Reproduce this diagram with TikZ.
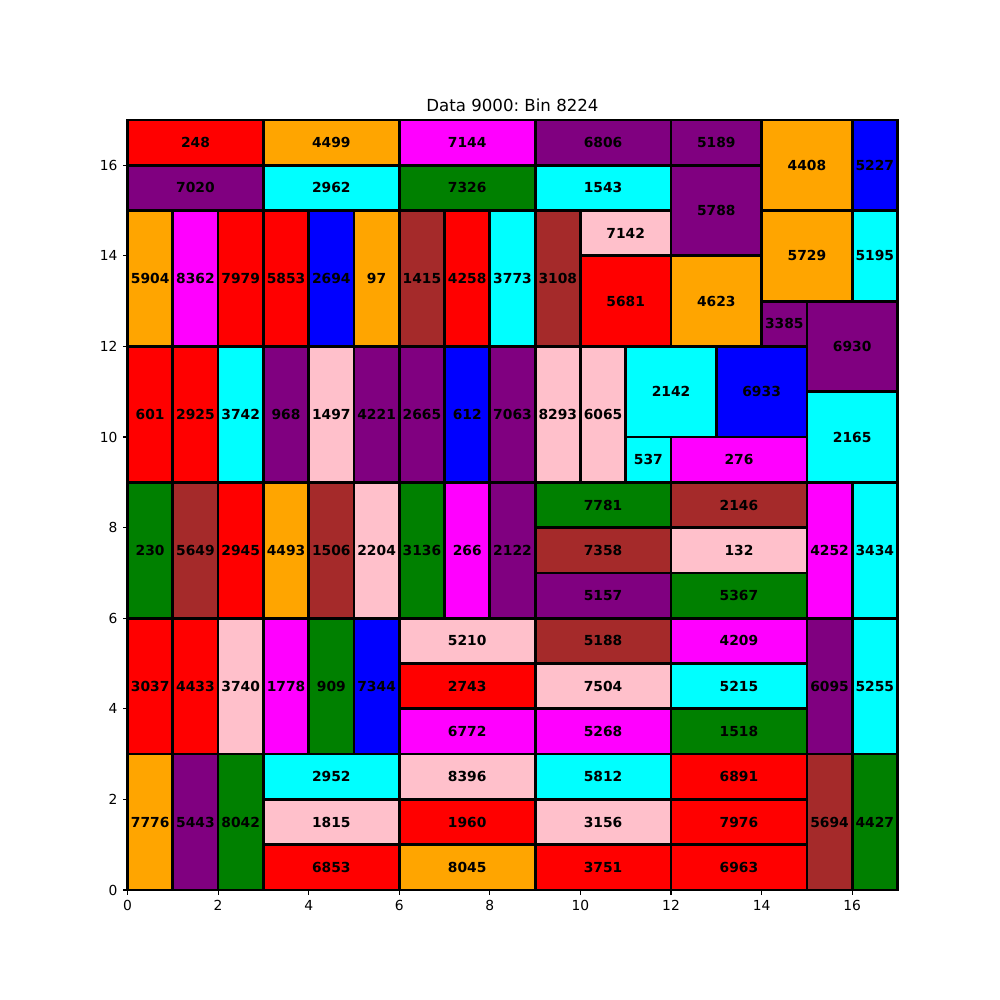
\documentclass[tikz,border=0pt]{standalone}
\usepackage{fontspec}
\setmainfont{DejaVu Sans}
\frenchspacing
\definecolor{mred}{HTML}{FF0000}
\definecolor{mblue}{HTML}{0000FF}
\definecolor{mpurple}{HTML}{800080}
\definecolor{morange}{HTML}{FFA500}
\definecolor{mbrown}{HTML}{A52A2A}
\definecolor{mpink}{HTML}{FFC0CB}
\definecolor{mgreen}{HTML}{008000}
\definecolor{mcyan}{HTML}{00FFFF}
\definecolor{mmagenta}{HTML}{FF00FF}
\tikzset{
  boxline/.style={draw=black, line width=2pt},
  lbl/.style={inner sep=0pt, font=\bfseries\fontsize{10}{12}\selectfont},
  ticklbl/.style={inner sep=0pt, font=\fontsize{10}{12}\selectfont},
  tick/.style={line width=0.8pt},
}
\newcommand\bx[6]{%
  \filldraw[fill=#5, boxline] (#1,#2) rectangle ++(#3,#4);
  \node[lbl] (n#6) at ({#1+#3/2},{#2+#4/2}) {#6};}
\begin{document}
\begin{tikzpicture}
\useasboundingbox[fill=white] (0,0) rectangle (25.4cm,25.4cm);
\begin{scope}[shift={(3.2385cm,2.794cm)}, x=1.150471cm, y=1.150471cm]
% top rows
\bx{0}{16}{3}{1}{mred}{248}
\bx{0}{15}{3}{1}{mpurple}{7020}
\bx{3}{16}{3}{1}{morange}{4499}
\bx{3}{15}{3}{1}{mcyan}{2962}
\bx{6}{16}{3}{1}{mmagenta}{7144}
\bx{6}{15}{3}{1}{mgreen}{7326}
\bx{9}{16}{3}{1}{mpurple}{6806}
\bx{9}{15}{3}{1}{mcyan}{1543}
\bx{12}{16}{2}{1}{mpurple}{5189}
\bx{12}{14}{2}{2}{mpurple}{5788}
\bx{14}{15}{2}{2}{morange}{4408}
\bx{16}{15}{1}{2}{mblue}{5227}
% y 12-15
\bx{0}{12}{1}{3}{morange}{5904}
\bx{1}{12}{1}{3}{mmagenta}{8362}
\bx{2}{12}{1}{3}{mred}{7979}
\bx{3}{12}{1}{3}{mred}{5853}
\bx{4}{12}{1}{3}{mblue}{2694}
\bx{5}{12}{1}{3}{morange}{97}
\bx{6}{12}{1}{3}{mbrown}{1415}
\bx{7}{12}{1}{3}{mred}{4258}
\bx{8}{12}{1}{3}{mcyan}{3773}
\bx{9}{12}{1}{3}{mbrown}{3108}
\bx{10}{14}{2}{1}{mpink}{7142}
\bx{10}{12}{2}{2}{mred}{5681}
\bx{12}{12}{2}{2}{morange}{4623}
\bx{14}{13}{2}{2}{morange}{5729}
\bx{16}{13}{1}{2}{mcyan}{5195}
\bx{14}{12}{1}{1}{mpurple}{3385}
\bx{15}{11}{2}{2}{mpurple}{6930}
% y 9-12
\bx{0}{9}{1}{3}{mred}{601}
\bx{1}{9}{1}{3}{mred}{2925}
\bx{2}{9}{1}{3}{mcyan}{3742}
\bx{3}{9}{1}{3}{mpurple}{968}
\bx{4}{9}{1}{3}{mpink}{1497}
\bx{5}{9}{1}{3}{mpurple}{4221}
\bx{6}{9}{1}{3}{mpurple}{2665}
\bx{7}{9}{1}{3}{mblue}{612}
\bx{8}{9}{1}{3}{mpurple}{7063}
\bx{9}{9}{1}{3}{mpink}{8293}
\bx{10}{9}{1}{3}{mpink}{6065}
\bx{11}{10}{2}{2}{mcyan}{2142}
\bx{13}{10}{2}{2}{mblue}{6933}
\bx{11}{9}{1}{1}{mcyan}{537}
\bx{12}{9}{3}{1}{mmagenta}{276}
\bx{15}{9}{2}{2}{mcyan}{2165}
% y 6-9
\bx{0}{6}{1}{3}{mgreen}{230}
\bx{1}{6}{1}{3}{mbrown}{5649}
\bx{2}{6}{1}{3}{mred}{2945}
\bx{3}{6}{1}{3}{morange}{4493}
\bx{4}{6}{1}{3}{mbrown}{1506}
\bx{5}{6}{1}{3}{mpink}{2204}
\bx{6}{6}{1}{3}{mgreen}{3136}
\bx{7}{6}{1}{3}{mmagenta}{266}
\bx{8}{6}{1}{3}{mpurple}{2122}
\bx{9}{8}{3}{1}{mgreen}{7781}
\bx{9}{7}{3}{1}{mbrown}{7358}
\bx{9}{6}{3}{1}{mpurple}{5157}
\bx{12}{8}{3}{1}{mbrown}{2146}
\bx{12}{7}{3}{1}{mpink}{132}
\bx{12}{6}{3}{1}{mgreen}{5367}
\bx{15}{6}{1}{3}{mmagenta}{4252}
\bx{16}{6}{1}{3}{mcyan}{3434}
% y 3-6
\bx{0}{3}{1}{3}{mred}{3037}
\bx{1}{3}{1}{3}{mred}{4433}
\bx{2}{3}{1}{3}{mpink}{3740}
\bx{3}{3}{1}{3}{mmagenta}{1778}
\bx{4}{3}{1}{3}{mgreen}{909}
\bx{5}{3}{1}{3}{mblue}{7344}
\bx{6}{5}{3}{1}{mpink}{5210}
\bx{6}{4}{3}{1}{mred}{2743}
\bx{6}{3}{3}{1}{mmagenta}{6772}
\bx{9}{5}{3}{1}{mbrown}{5188}
\bx{9}{4}{3}{1}{mpink}{7504}
\bx{9}{3}{3}{1}{mmagenta}{5268}
\bx{12}{5}{3}{1}{mmagenta}{4209}
\bx{12}{4}{3}{1}{mcyan}{5215}
\bx{12}{3}{3}{1}{mgreen}{1518}
\bx{15}{3}{1}{3}{mpurple}{6095}
\bx{16}{3}{1}{3}{mcyan}{5255}
% y 0-3
\bx{0}{0}{1}{3}{morange}{7776}
\bx{1}{0}{1}{3}{mpurple}{5443}
\bx{2}{0}{1}{3}{mgreen}{8042}
\bx{3}{2}{3}{1}{mcyan}{2952}
\bx{3}{1}{3}{1}{mpink}{1815}
\bx{3}{0}{3}{1}{mred}{6853}
\bx{6}{2}{3}{1}{mpink}{8396}
\bx{6}{1}{3}{1}{mred}{1960}
\bx{6}{0}{3}{1}{morange}{8045}
\bx{9}{2}{3}{1}{mcyan}{5812}
\bx{9}{1}{3}{1}{mpink}{3156}
\bx{9}{0}{3}{1}{mred}{3751}
\bx{12}{2}{3}{1}{mred}{6891}
\bx{12}{1}{3}{1}{mred}{7976}
\bx{12}{0}{3}{1}{mred}{6963}
\bx{15}{0}{1}{3}{mbrown}{5694}
\bx{16}{0}{1}{3}{mgreen}{4427}
% axes frame
\draw[line width=0.8pt] (0,0) rectangle (17,17);
% ticks
\foreach \t in {0,2,...,16}{
  \draw[tick] (\t,0) -- ++(0,-3.5pt);
  \node[ticklbl, anchor=north] (xt\t) at ([yshift=-7pt]\t,0) {\t};
  \draw[tick] (0,\t) -- ++(-3.5pt,0);
  \node[ticklbl, anchor=east] (yt\t) at ([xshift=-7pt]0,\t) {\t};
}
\node[inner sep=0pt, anchor=base, font=\fontsize{12}{14}\selectfont] (title) at ([yshift=6pt]8.5,17) {Data 9000: Bin 8224};
\end{scope}
\end{tikzpicture}
\end{document}
